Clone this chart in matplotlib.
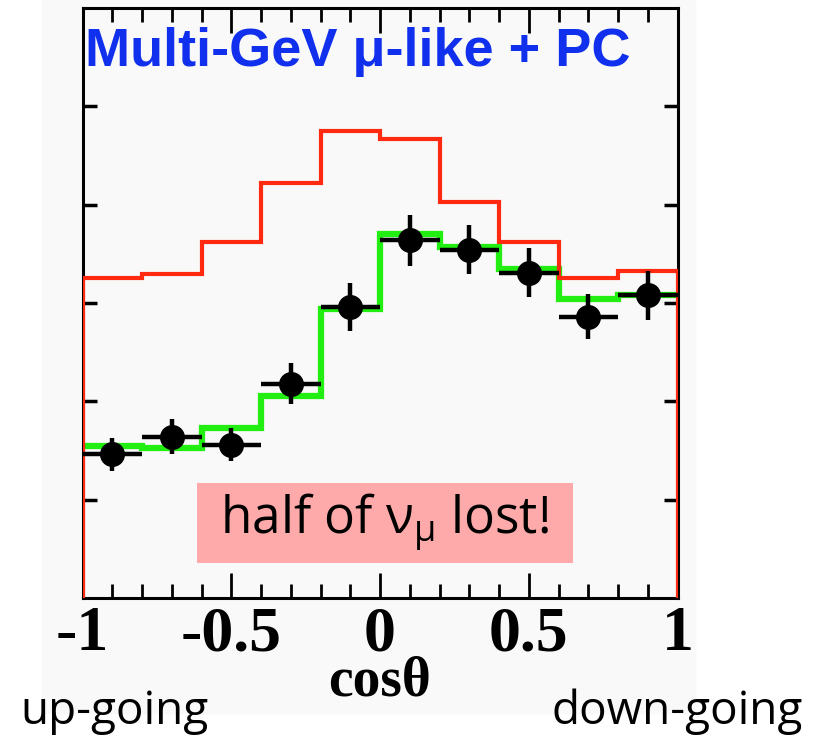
import numpy as np
import matplotlib.pyplot as plt
from matplotlib.patches import Rectangle

plt.rcParams['mathtext.fontset'] = 'custom'
plt.rcParams['mathtext.rm'] = 'Open Sans'
plt.rcParams['mathtext.it'] = 'Open Sans'

# cos(theta) bins
edges = np.round(np.arange(-1.0, 1.01, 0.2), 2)
centers = (edges[:-1] + edges[1:]) / 2

# no-oscillation expectation (red) and best fit (green)
no_osc = [325, 330, 362, 422, 475, 467, 403, 362, 325, 333]
best_fit = [155, 153, 173, 205, 294, 370, 357, 335, 304, 308]

# data points with errors
data = [146, 164, 156, 218, 296, 364, 354, 331, 286, 308]
data_err = [17, 18, 17, 21, 24, 26, 25, 25, 23, 25]

fig = plt.figure(figsize=(8.21, 7.42), dpi=100)
fig.patches.append(Rectangle((42 / 821, 1 - 713 / 742), (695 - 42) / 821, 713 / 742,
                             transform=fig.transFigure, color='#f9f9f9', zorder=-10))

ax = fig.add_axes([82.5 / 821, 1 - 598 / 742, 595 / 821, 590 / 742])
ax.set_facecolor('#f9f9f9')

ax.stairs(best_fit, edges, color='#22ee11', linewidth=4.5, baseline=None, zorder=2)
ax.stairs(no_osc, edges, color='#ff2a10', linewidth=3, baseline=0, zorder=3)
ax.errorbar(centers, data, yerr=data_err, xerr=0.1, fmt='o', color='black',
            markersize=17, elinewidth=3.2, capsize=0, zorder=4)

ax.set_xlim(-1, 1)
ax.set_ylim(0, 600)
ax.set_xticks([-1, -0.5, 0, 0.5, 1])
ax.set_xticklabels(['-1', '-0.5', '0', '0.5', '1'])
ax.set_xticks(np.arange(-1, 1.01, 0.1), minor=True)
ax.set_yticks([100, 200, 300, 400, 500])
ax.set_yticklabels([])
ax.tick_params(axis='x', which='major', direction='in', length=18, width=2, top=True,
               labelsize=46, pad=6)
ax.tick_params(axis='x', which='minor', direction='in', length=10, width=2, top=True)
ax.tick_params(axis='y', which='major', direction='in', length=10, width=2.5, right=True)
for lab in ax.get_xticklabels():
    lab.set_fontfamily('Liberation Serif')
    lab.set_fontweight('bold')
for s in ax.spines.values():
    s.set_linewidth(2.2)

ax.set_xlabel('cosθ', fontsize=40, fontfamily='Liberation Serif', fontweight='bold',
              labelpad=-6)

ax.text(0.005, 0.925, 'Multi-GeV μ-like + PC', transform=ax.transAxes, color='#1030ee',
        fontsize=39, fontweight='bold', fontfamily=['Liberation Sans Narrow', 'Liberation Sans'],
        ha='left', va='center')

ax.add_patch(Rectangle((0.192, 0.059), 0.632, 0.136, transform=ax.transAxes,
                       facecolor='#ffaaaa', edgecolor='none', zorder=5))
ax.text(0.508, 0.128, r'half of $\mathrm{\nu}_{\mathrm{\mu}}$ lost!', transform=ax.transAxes,
        ha='center', va='center', fontsize=37, fontfamily='Open Sans', color='black',
        zorder=6)

fig.text(20 / 821, 1 - 712 / 742, 'up-going', fontsize=33, fontfamily='Open Sans',
         ha='left', va='center')
fig.text(803 / 821, 1 - 712 / 742, 'down-going', fontsize=33, fontfamily='Open Sans',
         ha='right', va='center')

fig.savefig('out.png', dpi=100)
